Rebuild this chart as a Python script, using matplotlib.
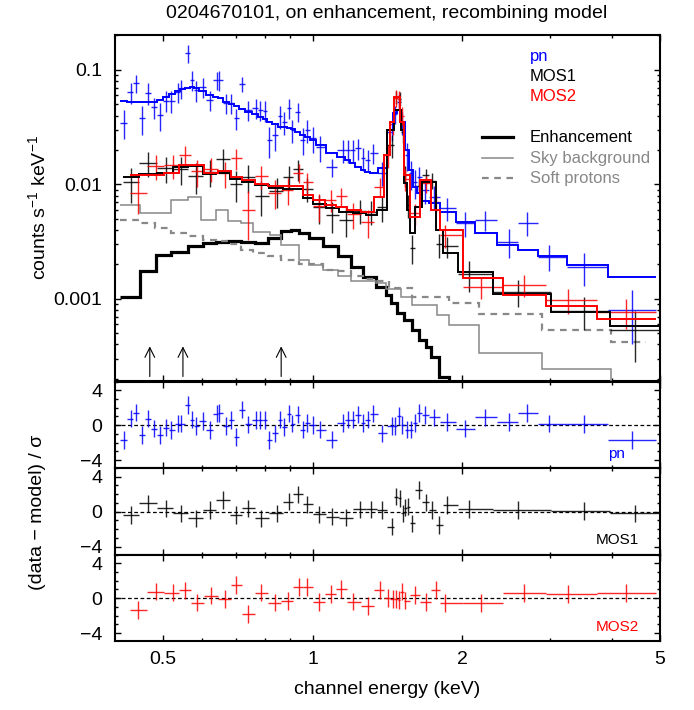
import numpy as np
import matplotlib
matplotlib.use('Agg')
import matplotlib.pyplot as plt
from matplotlib.ticker import FixedLocator, NullFormatter, FixedFormatter, MultipleLocator, LogLocator

plt.rcParams['font.family'] = ['Liberation Sans', 'DejaVu Sans']
plt.rcParams['mathtext.fontset'] = 'custom'
plt.rcParams['mathtext.rm'] = 'Liberation Sans'
plt.rcParams['mathtext.it'] = 'Liberation Sans:italic'

# ---------------- data ----------------
pn_E = [0.4165, 0.4310, 0.4405, 0.4535, 0.4652, 0.4787, 0.4938, 0.5066, 0.5195, 0.5357,
        0.5439, 0.5609, 0.5705, 0.5823, 0.6003, 0.6212, 0.6404, 0.6481, 0.6704, 0.6853,
        0.7021, 0.7211, 0.7421, 0.7681, 0.7840, 0.8012, 0.8182, 0.8403, 0.8608, 0.8769,
        0.8950, 0.9104, 0.9339, 0.9548, 0.9745, 0.9995, 1.034, 1.092, 1.149, 1.175,
        1.205, 1.232, 1.264, 1.290, 1.323, 1.381, 1.441, 1.466, 1.490, 1.516,
        1.550, 1.574, 1.609, 1.637, 1.679, 1.752, 1.859, 2.024, 2.223, 2.482,
        2.702, 2.993, 3.517, 4.387]
pn_rate = [0.0347, 0.0638, 0.0766, 0.0378, 0.0633, 0.0472, 0.0404, 0.0540, 0.0540, 0.0646,
           0.0692, 0.140, 0.0818, 0.0668, 0.0711, 0.0547, 0.0818, 0.0818, 0.0512, 0.0512,
           0.0378, 0.0755, 0.0448, 0.0463, 0.0448, 0.0441, 0.0245, 0.0271, 0.0396, 0.0353,
           0.0463, 0.0299, 0.0433, 0.0245, 0.0299, 0.0253, 0.0211, 0.0141, 0.0200, 0.0200,
           0.0200, 0.0207, 0.0169, 0.0164, 0.0188, 0.0126, 0.029, 0.041, 0.053, 0.035,
           0.018, 0.0125, 0.0105, 0.0115, 0.0090, 0.0078, 0.0062, 0.0046, 0.0049, 0.00316,
           0.00461, 0.00234, 0.00191, 0.0008]
pn_err = [0.010, 0.013, 0.014, 0.011, 0.014, 0.010, 0.011, 0.011, 0.012, 0.013,
          0.013, 0.026, 0.016, 0.014, 0.014, 0.011, 0.015, 0.016, 0.010, 0.010,
          0.008, 0.011, 0.009, 0.009, 0.009, 0.009, 0.0075, 0.0075, 0.009, 0.008,
          0.009, 0.007, 0.0085, 0.0065, 0.007, 0.0065, 0.0055, 0.0025, 0.0045, 0.0045,
          0.0045, 0.0042, 0.0038, 0.0035, 0.0038, 0.0030, 0.005, 0.007, 0.009, 0.008,
          0.005, 0.0035, 0.003, 0.0028, 0.0022, 0.0018, 0.0014, 0.0011, 0.0010, 0.0009,
          0.0011, 0.0006, 0.0006, 0.0004]
pn_model = [0.0536, 0.052, 0.052, 0.052, 0.052, 0.053, 0.055, 0.058, 0.062, 0.066,
            0.068, 0.070, 0.071, 0.070, 0.066, 0.061, 0.058, 0.057, 0.053, 0.050,
            0.048, 0.046, 0.043, 0.041, 0.039, 0.037, 0.035, 0.0335, 0.032, 0.0315,
            0.031, 0.0305, 0.029, 0.027, 0.026, 0.0245, 0.022, 0.0187, 0.0172, 0.0164,
            0.0153, 0.0143, 0.0135, 0.0128, 0.0127, 0.0138, 0.030, 0.042, 0.0448, 0.035,
            0.020, 0.0135, 0.0095, 0.0084, 0.0072, 0.0069, 0.0058, 0.0047, 0.00377, 0.00296,
            0.00268, 0.00238, 0.00198, 0.00155]
pn_resid = [-1.7, 0.76, 1.45, -1.14, 0.76, -0.38, -1.14, -0.27, -0.57, 0.19,
            0.19, 2.29, 0.65, -0.08, 0.5, -0.57, 1.33, 1.41, -0.08, 0.57,
            -1.33, 1.79, 0.08, 0.57, 0.57, 0.57, -1.71, -0.95, 0.65, -0.19,
            1.33, 0.19, 1.22, -0.5, 0.27, 0.0, -0.5, -1.64, 0.27, 0.65,
            0.65, 1.22, 0.27, 0.65, 1.33, -0.95, -0.11, -0.11, 1.03, 0.0,
            -0.5, -0.5, 0.27, 1.41, 1.14, 0.88, 0.38, -0.38, 0.88, 0.38,
            1.41, 0.19, 0.11, -1.71]

mos1_E = [0.431, 0.4652, 0.5066, 0.5421, 0.5823, 0.6212, 0.6594, 0.7021, 0.7421, 0.7880,
          0.8464, 0.8950, 0.9339, 0.9745, 1.031, 1.092, 1.169, 1.243, 1.313, 1.381,
          1.441, 1.473, 1.498, 1.519, 1.537, 1.555, 1.582, 1.637, 1.688, 1.738,
          1.798, 1.859, 2.059, 2.590, 3.517, 4.462]
mos1_rate = [0.0104, 0.0153, 0.0139, 0.0136, 0.0118, 0.0129, 0.0168, 0.0100, 0.0116, 0.0080,
             0.0088, 0.0117, 0.0136, 0.0092, 0.0063, 0.0054, 0.0049, 0.0059, 0.0058, 0.0063,
             0.022, 0.058, 0.056, 0.029, 0.012, 0.0066, 0.0028, 0.0096, 0.0120, 0.0108,
             0.0030, 0.0029, 0.00165, 0.00115, 0.00078, 0.00053]
mos1_err = [0.0035, 0.0038, 0.0036, 0.0038, 0.0036, 0.0034, 0.0036, 0.003, 0.0031, 0.0027,
            0.0026, 0.0028, 0.0028, 0.0022, 0.0018, 0.0016, 0.0014, 0.0014, 0.0014, 0.0016,
            0.005, 0.008, 0.008, 0.006, 0.0025, 0.0015, 0.0008, 0.0014, 0.0017, 0.0017,
            0.0007, 0.0006, 0.0005, 0.0003, 0.00025, 0.00025]
mos1_model = [0.0115, 0.0124, 0.0127, 0.0143, 0.0145, 0.0123, 0.0126, 0.0111, 0.0106, 0.0099,
              0.0093, 0.0091, 0.0091, 0.0076, 0.0068, 0.0062, 0.0058, 0.0056, 0.0054, 0.0060,
              0.030, 0.0448, 0.0448, 0.030, 0.0103, 0.0060, 0.0038, 0.0064, 0.0105, 0.0105,
              0.0040, 0.0025, 0.00173, 0.00111, 0.00077, 0.00058]
mos1_resid = [-0.38, 0.95, 0.38, -0.19, -0.76, 0.19, 1.33, -0.38, 0.38, -0.76,
              -0.19, 1.14, 1.98, 0.84, -0.30, -0.57, -0.69, 0.27, 0.27, 0.19,
              -1.71, 1.71, 1.52, -0.19, 0.46, 0.57, -1.33, 2.48, 1.07, 0.19,
              -1.52, 0.76, 0.30, 0.19, 0.08, -0.19]

mos2_E = [0.4458, 0.4834, 0.5222, 0.5534, 0.5853, 0.6232, 0.6648, 0.7021, 0.7421, 0.7880,
          0.8403, 0.8906, 0.9374, 0.9745, 1.031, 1.088, 1.139, 1.205, 1.294, 1.369,
          1.416, 1.448, 1.473, 1.490, 1.512, 1.537, 1.603, 1.693, 1.767, 1.844,
          2.186, 2.657, 3.259, 4.276]
mos2_rate = [0.0085, 0.0145, 0.0147, 0.0180, 0.0130, 0.0137, 0.0126, 0.0170, 0.0060, 0.0118,
             0.0085, 0.0090, 0.0127, 0.0105, 0.0065, 0.0073, 0.0079, 0.0055, 0.0047, 0.0095,
             0.018, 0.034, 0.057, 0.056, 0.040, 0.0112, 0.0056, 0.0102, 0.0070, 0.0036,
             0.00127, 0.00133, 0.00098, 0.00077]
mos2_err = [0.003, 0.0035, 0.0035, 0.0038, 0.0035, 0.0033, 0.0032, 0.0035, 0.0027, 0.0026,
            0.0024, 0.0024, 0.0024, 0.002, 0.0018, 0.0016, 0.0015, 0.0014, 0.0013, 0.0018,
            0.004, 0.007, 0.01, 0.01, 0.007, 0.0025, 0.0012, 0.0017, 0.0012, 0.0008,
            0.00028, 0.0003, 0.00024, 0.00022]
mos2_model = [0.0121, 0.0122, 0.0126, 0.0148, 0.0148, 0.0127, 0.0130, 0.0117, 0.0110, 0.0101,
              0.0097, 0.0097, 0.0097, 0.0081, 0.0073, 0.0066, 0.0063, 0.0060, 0.0058, 0.0078,
              0.018, 0.035, 0.058, 0.058, 0.035, 0.012, 0.0052, 0.0110, 0.0060, 0.0040,
              0.00151, 0.00109, 0.00087, 0.00067]
mos2_resid = [-1.33, 0.76, 0.65, 0.88, -0.5, 0.30, -0.11, 1.52, -1.83, 0.65,
              -0.5, -0.30, 1.26, 1.26, -0.46, 0.46, 1.03, -0.38, -0.88, 0.95,
              0.0, -0.11, -0.11, -0.19, 0.76, -0.27, 0.38, -0.46, 0.95, -0.57,
              -0.57, 0.57, 0.46, 0.57]

enh_edges = [0.409, 0.450, 0.4848, 0.5195, 0.5611, 0.6014, 0.6397, 0.6751, 0.7182, 0.7636,
             0.8121, 0.8639, 0.9049, 0.9404, 0.9849, 1.047, 1.123, 1.194, 1.260, 1.341,
             1.404, 1.439, 1.480, 1.528, 1.586, 1.637, 1.692, 1.731, 1.796, 1.882, 1.970]
enh_vals = [0.00103, 0.00177, 0.00242, 0.00256, 0.0029, 0.0031, 0.00316, 0.0032, 0.00316, 0.0031,
            0.00339, 0.00394, 0.0040, 0.0038, 0.00339, 0.0029, 0.00238, 0.0019, 0.00155, 0.00127,
            0.00108, 0.00093, 0.00075, 0.00066, 0.00054, 0.00044, 0.00038, 0.00031, 0.00021, 0.00012]

sky_edges = [0.409, 0.4487, 0.5195, 0.5611, 0.5970, 0.6397, 0.6751, 0.7182, 0.7577, 0.8186,
             0.8639, 0.9404, 0.9849, 1.047, 1.123, 1.194, 1.341, 1.406, 1.507, 1.586,
             1.780, 1.882, 2.161, 2.892, 3.98, 4.53]
sky_vals = [0.00662, 0.00568, 0.00733, 0.0078, 0.0049, 0.0060, 0.00475, 0.00465, 0.00387, 0.00363,
            0.00296, 0.00219, 0.00198, 0.00179, 0.00159, 0.00142, 0.00137, 0.00121, 0.00105, 0.00089,
            0.00072, 0.00059, 0.00034, 0.000243, 0.00015]

sp_edges = [0.409, 0.4487, 0.481, 0.5195, 0.5611, 0.6014, 0.6397, 0.6751, 0.7182, 0.7577,
            0.8121, 0.8639, 0.9404, 1.047, 1.114, 1.194, 1.260, 1.341, 1.426, 1.586,
            1.882, 2.161, 2.892, 3.98, 4.68]
sp_vals = [0.0049, 0.0046, 0.0042, 0.0038, 0.00358, 0.00327, 0.0032, 0.0030, 0.0027, 0.0025,
           0.00235, 0.0022, 0.0020, 0.0018, 0.00174, 0.00159, 0.0015, 0.00142, 0.00125, 0.00104,
           0.00093, 0.00074, 0.00054, 0.00042]

arrow_E = [0.47, 0.548, 0.864]

xticks = [0.5, 1, 2, 5]
xtick_labels = ['0.5', '1', '2', '5']
xminor = [0.6, 0.7, 0.8, 0.9, 3, 4]

BLUE = '#0000ff'
RED = '#ff0000'
GRAY = '#888888'


def edges_from_centers(c):
    c = np.asarray(c, dtype=float)
    mid = np.sqrt(c[:-1] * c[1:])
    return np.concatenate([[c[0] ** 2 / mid[0]], mid, [c[-1] ** 2 / mid[-1]]])


W, H = 694, 710
fig = plt.figure(figsize=(W / 100, H / 100), dpi=100)
L = 115 / W
AW = (660 - 115) / W


def add(top_px, bot_px):
    return fig.add_axes([L, 1 - bot_px / H, AW, (bot_px - top_px) / H])


ax = add(35, 381.5)
r1 = add(381.5, 468)
r2 = add(468, 554.5)
r3 = add(554.5, 641)

# ---- top panel ----
ax.set_xscale('log')
ax.set_yscale('log')
ax.set_xlim(0.4, 5)
ax.set_ylim(1.9e-4, 0.202)

ax.stairs(enh_vals, enh_edges, color='black', lw=2.3, baseline=None, zorder=3)
ax.stairs(sky_vals, sky_edges, color=GRAY, lw=1.1, baseline=None, zorder=3)
ax.stairs(sp_vals, sp_edges, color=GRAY, lw=1.6, ls=(0, (3, 2.5)), baseline=None, zorder=3)

datasets = [
    (pn_E, pn_rate, pn_err, pn_model, pn_resid, BLUE, r1, 'pn'),
    (mos1_E, mos1_rate, mos1_err, mos1_model, mos1_resid, 'black', r2, 'MOS1'),
    (mos2_E, mos2_rate, mos2_err, mos2_model, mos2_resid, RED, r3, 'MOS2'),
]
for E, rate, err, model, resid, col, rax, name in datasets:
    e = edges_from_centers(E)
    Ea = np.asarray(E)
    xerr = [Ea - e[:-1], e[1:] - Ea]
    ax.errorbar(E, rate, xerr=xerr, yerr=err, fmt='none', ecolor=col,
                elinewidth=1.0, capsize=0, alpha=0.85, zorder=4)
    ax.stairs(model, e, color=col, lw=1.4, baseline=None, zorder=5)
    rax.errorbar(E, resid, xerr=xerr, yerr=1.0, fmt='none', ecolor=col,
                 elinewidth=1.0, capsize=0, alpha=0.85, zorder=4)
    rax.axhline(0, color='black', lw=0.9, ls=(0, (3, 2)), zorder=2)
    rax.text(0.921, 0.165, name, color=col, fontsize=11, ha='center', va='center',
             transform=rax.transAxes)

for xa in arrow_E:
    ax.annotate('', xy=(xa, 3.85e-4), xytext=(xa, 2.1e-4),
                arrowprops=dict(arrowstyle='->,head_length=0.7,head_width=0.35',
                                color='black', lw=0.8, shrinkA=0, shrinkB=0))

# legend (manual)
lx0, lx1, tx = 0.673, 0.731, 0.7615
fs_leg = 12
ax.text(tx, 0.937, 'pn', color=BLUE, fontsize=fs_leg, transform=ax.transAxes, va='center')
ax.text(tx, 0.880, 'MOS1', color='black', fontsize=fs_leg, transform=ax.transAxes, va='center')
ax.text(tx, 0.822, 'MOS2', color=RED, fontsize=fs_leg, transform=ax.transAxes, va='center')
ax.plot([lx0, lx1], [0.7056, 0.7056], color='black', lw=2.3, transform=ax.transAxes)
ax.text(tx, 0.7056, 'Enhancement', color='black', fontsize=fs_leg, transform=ax.transAxes, va='center')
ax.plot([lx0, lx1], [0.645, 0.645], color=GRAY, lw=1.1, transform=ax.transAxes)
ax.text(tx, 0.645, 'Sky background', color=GRAY, fontsize=fs_leg, transform=ax.transAxes, va='center')
ax.plot([lx0, lx1], [0.587, 0.587], color=GRAY, lw=1.6, ls=(0, (3, 2.5)), transform=ax.transAxes)
ax.text(tx, 0.587, 'Soft protons', color=GRAY, fontsize=fs_leg, transform=ax.transAxes, va='center')

ax.yaxis.set_major_locator(FixedLocator([0.001, 0.01, 0.1]))
ax.yaxis.set_major_formatter(FixedFormatter(['0.001', '0.01', '0.1']))
ax.yaxis.set_minor_locator(LogLocator(base=10, subs=np.arange(2, 10)))
ax.yaxis.set_minor_formatter(NullFormatter())

for a in (ax, r1, r2, r3):
    a.set_xscale('log')
    a.set_xlim(0.4, 5)
    a.xaxis.set_major_locator(FixedLocator(xticks))
    a.xaxis.set_minor_locator(FixedLocator(xminor))
    a.xaxis.set_minor_formatter(NullFormatter())
    if a is r3:
        a.xaxis.set_major_formatter(FixedFormatter(xtick_labels))
    else:
        a.xaxis.set_major_formatter(NullFormatter())
    a.tick_params(which='both', direction='in', top=True, right=True, width=1.0)
    a.tick_params(which='major', length=4.5, labelsize=14, pad=9)
    a.tick_params(which='minor', length=2.5)
    a.tick_params(axis='x', which='major', pad=7)
    for s in a.spines.values():
        s.set_linewidth(1.5)

for rax in (r1, r2, r3):
    rax.set_ylim(-4.9, 5.0)
    rax.yaxis.set_major_locator(FixedLocator([-4, 0, 4]))
    rax.yaxis.set_major_formatter(FixedFormatter(['\u22124', '0', '4']))
    rax.yaxis.set_minor_locator(MultipleLocator(1))

fig.text(387 / W, 1 - 14 / H, '0204670101, on enhancement, recombining model',
         ha='center', va='center', fontsize=14)
fig.text(38 / W, 1 - 208 / H, 'counts s$^{-1}$ keV$^{-1}$', rotation=90,
         ha='center', va='center', fontsize=14)
fig.text(38 / W, 1 - 512 / H, '(data \u2212 model) / \u03c3', rotation=90,
         ha='center', va='center', fontsize=14)
fig.text(387 / W, 1 - 690 / H, 'channel energy (keV)', ha='center', va='center', fontsize=14)

fig.savefig('out.png', dpi=100)
